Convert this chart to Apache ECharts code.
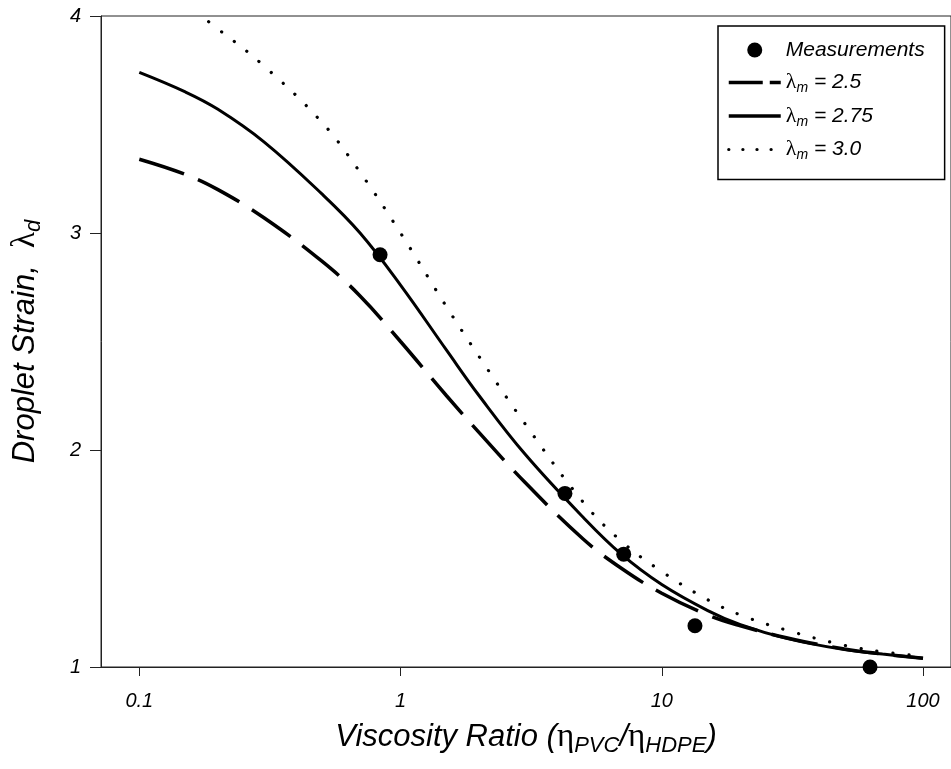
<!DOCTYPE html>
<html>
<head>
<meta charset="utf-8">
<script src="https://cdn.jsdelivr.net/npm/echarts@6/dist/echarts.min.js"></script>
<style>
  html, body { margin: 0; padding: 0; background: #fff; }
  #chart { width: 951px; height: 769px; }
</style>
</head>
<body>
<div id="chart"></div>
<script>
// viscosity ratio samples used for the model curves
var ratios = [0.1, 0.15, 0.2, 0.3, 0.5, 0.7, 1, 1.5, 2, 3, 5, 7, 10, 15, 20, 30, 50, 70, 100];
// droplet strain, model curves (lambda_m = 2.5 / 2.75 / 3.0)
var strain25 = [3.34, 3.27, 3.20, 3.07, 2.87, 2.71, 2.50, 2.25, 2.08, 1.85, 1.59, 1.455, 1.34, 1.24, 1.19, 1.135, 1.083, 1.06, 1.04];
var strain275 = [3.74, 3.65, 3.57, 3.42, 3.18, 3.00, 2.76, 2.46, 2.25, 1.98, 1.69, 1.52, 1.38, 1.26, 1.195, 1.132, 1.08, 1.06, 1.04];
var strain30 = [4.16, 4.05, 3.94, 3.77, 3.51, 3.28, 3.00, 2.66, 2.43, 2.12, 1.76, 1.58, 1.44, 1.31, 1.24, 1.17, 1.10, 1.07, 1.05];
// measurements
var measRatio = [0.835, 4.26, 7.15, 13.4, 62.7];
var measStrain = [2.90, 1.80, 1.52, 1.19, 1.00];
// axis ticks
var xTicks = [0.1, 1, 10, 100];
var yTicks = [1, 2, 3, 4];

function pairs(xs, ys) {
    return xs.map(function (x, i) { return [x, ys[i]]; });
}

var font = 'Liberation Sans, Arial, sans-serif';
var serif = 'Liberation Serif, DejaVu Serif, serif';
var ink = '#000';
var noSymbol = { color: 'rgba(0,0,0,0)', borderWidth: 0, opacity: 0 };

var myChart = echarts.init(document.getElementById('chart'), null, { renderer: 'canvas' });

var option = {
    backgroundColor: '#fff',
    animation: false,
    grid: {
        left: 101,
        top: 16,
        right: 0,
        bottom: 102,
        show: true,
        borderColor: '#222',
        borderWidth: 1
    },
    legend: {
        orient: 'vertical',
        left: 718,
        top: 26,
        padding: [12, 20, 17, 9],
        itemGap: 7.5,
        itemWidth: 52,
        itemHeight: 15,
        borderColor: '#000',
        borderWidth: 1.5,
        backgroundColor: '#fff',
        data: [
            { name: 'Measurements', itemStyle: { color: ink, opacity: 1 } },
            { name: 'λm = 2.5', itemStyle: noSymbol, lineStyle: { color: ink, type: [34, 7], width: 3.5 } },
            { name: 'λm = 2.75', itemStyle: noSymbol, lineStyle: { color: ink, type: 'solid', width: 3.5 } },
            { name: 'λm = 3.0', itemStyle: noSymbol, lineStyle: { color: ink, type: [0.1, 14], width: 3.2, cap: 'round' } }
        ],
        formatter: function (name) {
            if (name.indexOf('λm') === 0) {
                return '{lam|λ}{sub|m}{txt|' + name.slice(2) + '}';
            }
            return '{txt|' + name + '}';
        },
        textStyle: {
            color: ink,
            fontFamily: font,
            fontStyle: 'italic',
            fontSize: 21,
            lineHeight: 24,
            rich: {
                txt: { color: ink, fontFamily: font, fontStyle: 'italic', fontSize: 21, lineHeight: 24 },
                lam: { color: ink, fontFamily: serif, fontStyle: 'normal', fontSize: 22, lineHeight: 24 },
                sub: { color: ink, fontFamily: font, fontStyle: 'italic', fontSize: 14, lineHeight: 24, padding: [12, 0, 0, 0] }
            }
        }
    },
    xAxis: {
        type: 'log',
        min: 0.07135,
        max: 128,
        name: 'Viscosity Ratio ({eta|η}{sub|PVC}/{eta|η}{sub|HDPE})',
        nameLocation: 'middle',
        nameGap: 50,
        nameTextStyle: {
            color: ink,
            fontFamily: font,
            fontStyle: 'italic',
            fontSize: 31,
            rich: {
                eta: { color: ink, fontFamily: serif, fontStyle: 'normal', fontSize: 33 },
                sub: { color: ink, fontFamily: font, fontStyle: 'italic', fontSize: 22, padding: [18, 0, 0, 0] }
            }
        },
        axisLine: { show: true, lineStyle: { color: '#222', width: 1 } },
        axisTick: { show: true, length: 9, lineStyle: { color: '#222' }, customValues: xTicks },
        axisLabel: {
            color: ink,
            fontFamily: font,
            fontStyle: 'italic',
            fontSize: 20,
            margin: 24,
            customValues: xTicks,
            formatter: function (v) { return String(v); }
        },
        splitLine: { show: false },
        minorTick: { show: false }
    },
    yAxis: {
        type: 'value',
        min: 1,
        max: 4,
        interval: 1,
        name: 'Droplet Strain,  {lam|λ}{sub|d}',
        nameLocation: 'middle',
        nameGap: 56,
        nameTextStyle: {
            color: ink,
            fontFamily: font,
            fontStyle: 'italic',
            fontSize: 31,
            rich: {
                lam: { color: ink, fontFamily: serif, fontStyle: 'normal', fontSize: 33 },
                sub: { color: ink, fontFamily: font, fontStyle: 'italic', fontSize: 22, padding: [18, 0, 0, 0] }
            }
        },
        axisLine: { show: true, lineStyle: { color: '#222', width: 1 } },
        axisTick: { show: true, length: 11, lineStyle: { color: '#222' }, customValues: yTicks },
        axisLabel: {
            color: ink,
            fontFamily: font,
            fontStyle: 'italic',
            fontSize: 20,
            margin: 20,
            customValues: yTicks
        },
        splitLine: { show: false }
    },
    series: [
        {
            name: 'λm = 2.5',
            type: 'line',
            data: pairs(ratios, strain25),
            smooth: 0.4,
            symbol: 'none',
            clip: true,
            color: ink,
            lineStyle: { color: ink, width: 3.5, type: [47, 15] },
            z: 2
        },
        {
            name: 'λm = 2.75',
            type: 'line',
            data: pairs(ratios, strain275),
            smooth: 0.4,
            symbol: 'none',
            clip: true,
            color: ink,
            lineStyle: { color: ink, width: 3, type: 'solid' },
            z: 2
        },
        {
            name: 'λm = 3.0',
            type: 'line',
            data: pairs(ratios, strain30),
            smooth: 0.4,
            symbol: 'none',
            clip: true,
            color: ink,
            lineStyle: { color: ink, width: 3.2, type: [0.1, 16], cap: 'round' },
            z: 2
        },
        {
            name: 'Measurements',
            type: 'scatter',
            data: pairs(measRatio, measStrain),
            symbol: 'circle',
            symbolSize: 15,
            clip: false,
            itemStyle: { color: ink, opacity: 1 },
            z: 3
        }
    ]
};

myChart.setOption(option);
</script>
</body>
</html>
